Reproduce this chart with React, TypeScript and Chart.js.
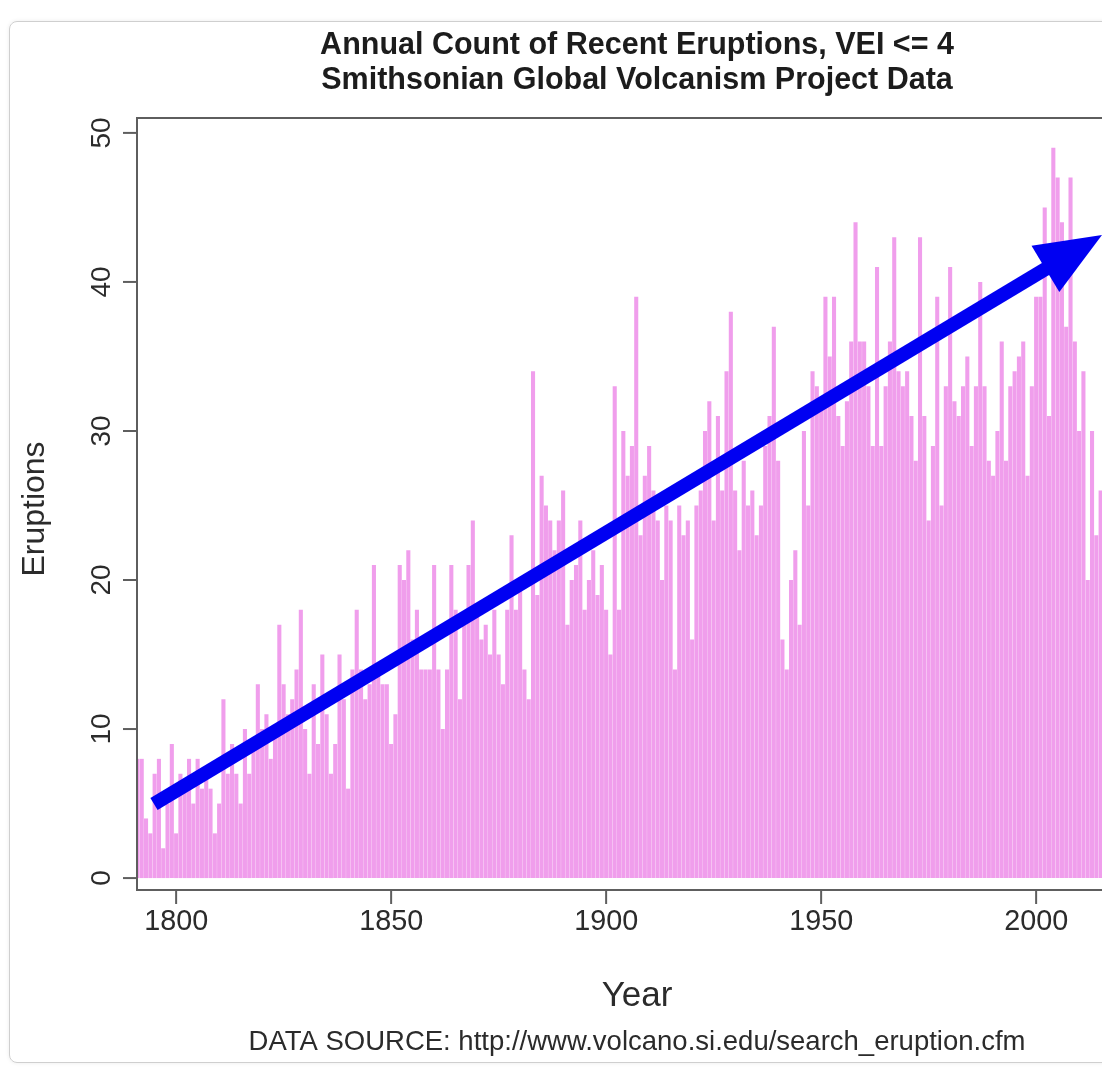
import React, { useEffect, useRef } from "react";
import { Chart, registerables } from "chart.js";

Chart.register(...registerables);

// ---- data ----
const firstYear = 1791;
const eruptions: number[] = [
  // 1791-1800
  8, 8, 4, 3, 7, 8, 2, 5, 9, 3,
  // 1801-1810
  7, 6, 8, 5, 8, 6, 7, 6, 3, 5,
  // 1811-1820
  12, 7, 9, 7, 5, 10, 7, 9, 13, 10,
  // 1821-1830
  11, 8, 10, 17, 13, 11, 12, 14, 18, 10,
  // 1831-1840
  7, 13, 9, 15, 11, 7, 9, 15, 12, 6,
  // 1841-1850
  14, 18, 14, 12, 13, 21, 14, 13, 13, 9,
  // 1851-1860
  11, 21, 20, 22, 16, 18, 14, 14, 14, 21,
  // 1861-1870
  14, 10, 14, 21, 18, 12, 17, 21, 24, 18,
  // 1871-1880
  16, 17, 15, 18, 15, 13, 18, 23, 18, 20,
  // 1881-1890
  14, 12, 34, 19, 27, 25, 24, 22, 24, 26,
  // 1891-1900
  17, 20, 21, 24, 18, 20, 22, 19, 21, 18,
  // 1901-1910
  15, 33, 18, 30, 27, 29, 39, 23, 27, 29,
  // 1911-1920
  26, 24, 20, 25, 24, 14, 25, 23, 24, 16,
  // 1921-1930
  25, 26, 30, 32, 24, 31, 26, 34, 38, 26,
  // 1931-1940
  22, 28, 25, 26, 23, 25, 29, 31, 37, 28,
  // 1941-1950
  16, 14, 20, 22, 17, 30, 25, 34, 33, 32,
  // 1951-1960
  39, 35, 39, 31, 29, 32, 36, 44, 36, 36,
  // 1961-1970
  33, 29, 41, 29, 33, 36, 43, 34, 33, 34,
  // 1971-1980
  31, 28, 43, 31, 24, 29, 39, 25, 33, 41,
  // 1981-1990
  32, 31, 33, 35, 29, 33, 40, 33, 28, 27,
  // 1991-2000
  30, 36, 28, 33, 34, 35, 36, 27, 33, 39,
  // 2001-2010
  39, 45, 31, 49, 47, 44, 37, 47, 36, 30,
  // 2011-2015
  34, 20, 30, 23, 26,
];
const years: number[] = eruptions.map((_, i) => firstYear + i);

const xTickYears: number[] = [1800, 1850, 1900, 1950, 2000];
const yTickValues: number[] = [0, 10, 20, 30, 40, 50];

// trend arrow (data coordinates: start, tip)
const arrowYears: number[] = [1794.85, 2015.32];
const arrowValues: number[] = [4.97, 43.15];

const titleLines: string[] = [
  "Annual Count of Recent Eruptions, VEI <= 4",
  "Smithsonian Global Volcanism Project Data",
];
const xTitle = "Year";
const yTitle = "Eruptions";
const sourceNote = "DATA SOURCE: http://www.volcano.si.edu/search_eruption.cfm";

// ---- layout / style ----
const CANVAS_W = 1140;
const CANVAS_H = 1070;
const PLOT_LEFT = 137;
const PLOT_TOP = 118;
const PLOT_RIGHT = 1138;
const PLOT_BOTTOM = 890;
const X_MIN = 1790.9;
const X_MAX = X_MIN + (PLOT_RIGHT - PLOT_LEFT) / 4.3;
const Y_MIN = -0.8;
const Y_MAX = 51.0;

const BAR_COLOR = "#F09EEC";
const ARROW_COLOR = "#0000F2";
const AXIS_COLOR = "#5e5e5e";
const TEXT_COLOR = "#2b2b2b";
const FONT = '"Liberation Sans", Arial, Helvetica, sans-serif';

export default function App() {
  const ref = useRef<HTMLCanvasElement | null>(null);

  useEffect(() => {
    const canvas = ref.current;
    if (!canvas) return;

    const decor = {
      id: "decor",
      afterDatasetsDraw(chart: any) {
        const ctx: CanvasRenderingContext2D = chart.ctx;
        const xs = chart.scales.x;
        const ys = chart.scales.y;
        const x0 = xs.getPixelForValue(arrowYears[0]);
        const y0 = ys.getPixelForValue(arrowValues[0]);
        const x1 = xs.getPixelForValue(arrowYears[1]);
        const y1 = ys.getPixelForValue(arrowValues[1]);
        const dx = x1 - x0;
        const dy = y1 - y0;
        const len = Math.sqrt(dx * dx + dy * dy);
        const ux = dx / len;
        const uy = dy / len;
        const headLen = 66;
        const headHalf = 27;
        const bx = x1 - ux * headLen;
        const by = y1 - uy * headLen;
        ctx.save();
        ctx.strokeStyle = ARROW_COLOR;
        ctx.fillStyle = ARROW_COLOR;
        ctx.lineWidth = 14;
        ctx.lineCap = "butt";
        ctx.beginPath();
        ctx.moveTo(x0, y0);
        ctx.lineTo(bx + ux * 4, by + uy * 4);
        ctx.stroke();
        ctx.beginPath();
        ctx.moveTo(x1, y1);
        ctx.lineTo(bx - uy * headHalf, by + ux * headHalf);
        ctx.lineTo(bx + uy * headHalf, by - ux * headHalf);
        ctx.closePath();
        ctx.fill();
        ctx.restore();
      },
      afterDraw(chart: any) {
        const ctx: CanvasRenderingContext2D = chart.ctx;
        const xs = chart.scales.x;
        const ys = chart.scales.y;
        const area = chart.chartArea;
        ctx.save();
        // box
        ctx.strokeStyle = AXIS_COLOR;
        ctx.lineWidth = 2;
        ctx.strokeRect(area.left, area.top, area.right - area.left, area.bottom - area.top);

        // y ticks + rotated labels
        ctx.fillStyle = TEXT_COLOR;
        ctx.font = `28px ${FONT}`;
        ctx.textAlign = "center";
        ctx.textBaseline = "middle";
        for (const v of yTickValues) {
          const py = ys.getPixelForValue(v);
          ctx.beginPath();
          ctx.moveTo(area.left - 14, py);
          ctx.lineTo(area.left, py);
          ctx.stroke();
          ctx.save();
          ctx.translate(101, py);
          ctx.rotate(-Math.PI / 2);
          ctx.fillText(String(v), 0, 1);
          ctx.restore();
        }

        // x ticks + labels
        ctx.font = `30px ${FONT}`;
        for (const t of xTickYears) {
          const px = xs.getPixelForValue(t);
          ctx.beginPath();
          ctx.moveTo(px, area.bottom);
          ctx.lineTo(px, area.bottom + 14);
          ctx.stroke();
          ctx.fillText(String(t), px, 922, 64);
        }

        // axis titles
        ctx.font = `35px ${FONT}`;
        ctx.fillText(xTitle, 637, 996);
        ctx.save();
        ctx.translate(35, 509);
        ctx.rotate(-Math.PI / 2);
        ctx.font = `32px ${FONT}`;
        ctx.fillText(yTitle, 0, 0, 140);
        ctx.restore();

        // title
        ctx.fillStyle = "#1c1c1c";
        ctx.font = `bold 30.5px ${FONT}`;
        ctx.textBaseline = "alphabetic";
        ctx.fillText(titleLines[0], 637, 54, 648);
        ctx.fillText(titleLines[1], 637, 89, 648);

        // source note
        ctx.fillStyle = TEXT_COLOR;
        ctx.font = `27.5px ${FONT}`;
        ctx.fillText(sourceNote, 637, 1050, 786);
        ctx.restore();
      },
    };

    const chart = new Chart(canvas, {
      type: "bar",
      data: {
        datasets: [
          {
            data: years.map((y, i) => ({ x: y, y: eruptions[i] })),
            backgroundColor: BAR_COLOR,
            borderWidth: 0,
            barPercentage: 0.95,
            categoryPercentage: 1,
          },
        ],
      },
      options: {
        responsive: false,
        animation: false,
        events: [],
        layout: {
          padding: {
            left: PLOT_LEFT,
            top: PLOT_TOP,
            right: CANVAS_W - PLOT_RIGHT,
            bottom: CANVAS_H - PLOT_BOTTOM,
          },
        },
        plugins: {
          legend: { display: false },
          tooltip: { enabled: false },
          title: { display: false },
        },
        scales: {
          x: {
            type: "linear",
            min: X_MIN,
            max: X_MAX,
            offset: false,
            display: false,
            grid: { offset: false },
          },
          y: {
            type: "linear",
            min: Y_MIN,
            max: Y_MAX,
            display: false,
          },
        },
      } as any,
      plugins: [decor],
    });

    return () => chart.destroy();
  }, []);

  return (
    <div
      style={{
        position: "absolute",
        left: 0,
        top: 0,
        width: 1102,
        height: 1070,
        overflow: "hidden",
        background: "#ffffff",
      }}
    >
      <div
        style={{
          position: "absolute",
          left: 9,
          top: 21,
          width: 1200,
          height: 1040,
          border: "1.5px solid #cfcfcf",
          borderRadius: 8,
          boxShadow: "0 0 4px rgba(0,0,0,0.08)",
        }}
      />
      <canvas
        ref={ref}
        width={CANVAS_W}
        height={CANVAS_H}
        style={{ position: "absolute", left: 0, top: 0, width: CANVAS_W, height: CANVAS_H }}
      />
    </div>
  );
}
